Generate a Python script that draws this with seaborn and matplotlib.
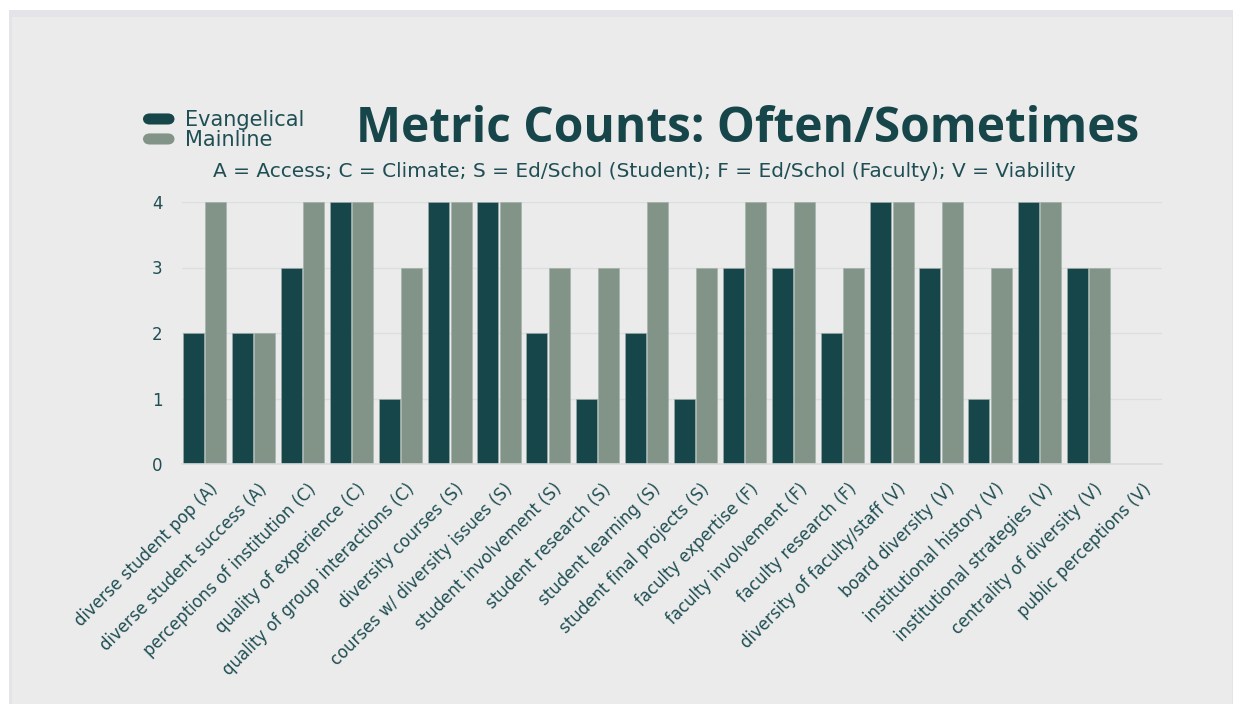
import matplotlib
matplotlib.use("Agg")
import matplotlib.pyplot as plt
import matplotlib.transforms as mtransforms
from matplotlib.patches import FancyBboxPatch, Rectangle
from matplotlib.legend_handler import HandlerPatch
import pandas as pd
import seaborn as sns

# Metric names (category code in parentheses)
metrics = [
    "diverse student pop (A)", "diverse student success (A)",
    "perceptions of institution (C)", "quality of experience (C)",
    "quality of group interactions (C)", "diversity courses (S)",
    "courses w/ diversity issues (S)", "student involvement (S)",
    "student research (S)", "student learning (S)",
    "student final projects (S)", "faculty expertise (F)",
    "faculty involvement (F)", "faculty research (F)",
    "diversity of faculty/staff (V)", "board diversity (V)",
    "institutional history (V)", "institutional strategies (V)",
    "centrality of diversity (V)", "public perceptions (V)",
]
evangelical = [2, 2, 3, 4, 1, 4, 4, 2, 1, 2, 1, 3, 3, 2, 4, 3, 1, 4, 3, 0]
mainline = [4, 2, 4, 4, 3, 4, 4, 3, 3, 4, 3, 4, 4, 3, 4, 4, 3, 4, 3, 0]
groups = ["Evangelical", "Mainline"]
y_ticks = [0, 1, 2, 3, 4]

DARK = "#17464a"
SAGE = "#829488"
TEXT = "#1f4f54"
PANEL = "#ebebeb"

df = pd.DataFrame({
    "metric": metrics * 2,
    "group": [groups[0]] * len(metrics) + [groups[1]] * len(metrics),
    "count": evangelical + mainline,
})

sns.set_theme(style="white")
plt.rcParams["font.family"] = ["DejaVu Sans"]

fig = plt.figure(figsize=(12.35, 7.04), dpi=100)
fig.patch.set_facecolor("white")

# Card background with a faint border
fig.patches.append(Rectangle((9 / 1235, -0.01), (1233 - 9) / 1235, 1 - 10 / 704 + 0.01,
                             transform=fig.transFigure, facecolor="#e4e4e8",
                             edgecolor="none", zorder=-3))
fig.patches.append(Rectangle((12 / 1235, -0.01), (1232 - 12) / 1235, 1 - 17 / 704 + 0.01,
                             transform=fig.transFigure, facecolor=PANEL,
                             edgecolor="none", zorder=-2))

ax = fig.add_axes([182 / 1235, 1 - 464 / 704, (1162 - 182) / 1235, (464 - 202) / 704])
ax.set_facecolor("none")

sns.barplot(data=df, x="metric", y="count", hue="group", order=metrics,
            hue_order=groups, palette=[DARK, SAGE], width=0.91, gap=0.06,
            saturation=1, edgecolor="#9fb0ab", linewidth=0.4, legend=False, ax=ax)

ax.set_xlim(-0.455, len(metrics) - 0.5)
ax.set_ylim(0, 4)
ax.set_yticks(y_ticks)
ax.set_yticklabels([str(v) for v in y_ticks])
ax.yaxis.grid(True, color="#dcdfdf", linewidth=1)
ax.set_axisbelow(True)
for side in ["top", "right", "left"]:
    ax.spines[side].set_visible(False)
ax.spines["bottom"].set_color("#d8dcdc")
ax.spines["bottom"].set_linewidth(1.2)
ax.set_xlabel("")
ax.set_ylabel("")
ax.tick_params(axis="y", length=0, pad=14, labelsize=12, labelcolor=TEXT)
ax.tick_params(axis="x", length=0, pad=0)

ax.set_xticks(range(len(metrics)))
ax.set_xticklabels(metrics, rotation=45, ha="right", va="top",
                   rotation_mode="anchor", fontsize=11.9, color=TEXT)
offset = mtransforms.ScaledTranslation(0.05, -0.16, fig.dpi_scale_trans)
for lbl in ax.get_xticklabels():
    lbl.set_transform(lbl.get_transform() + offset)

# Title and code key
fig.text(0.605, 0.816, "Metric Counts: Often/Sometimes", ha="center", va="center",
         fontsize=34.5, fontweight="bold", color=DARK, family="Open Sans")
fig.text(0.522, 0.757,
         "A = Access; C = Climate; S = Ed/Schol (Student); F = Ed/Schol (Faculty); V = Viability",
         ha="center", va="center", fontsize=14.5, color=TEXT)


# Rounded legend swatches
class RoundHandler(HandlerPatch):
    def create_artists(self, legend, orig_handle, xdescent, ydescent,
                       width, height, fontsize, trans):
        p = FancyBboxPatch((-xdescent + 2, -ydescent + 1.5), width - 4, height - 3,
                           boxstyle="round,pad=0,rounding_size=5",
                           facecolor=orig_handle.get_facecolor(), edgecolor="none",
                           transform=trans)
        return [p]


handles = [Rectangle((0, 0), 1, 1, facecolor=c) for c in (DARK, SAGE)]
fig.legend(handles, groups, loc="center left", bbox_to_anchor=(140 / 1235, 0.815),
           frameon=False, fontsize=15, labelcolor=TEXT, handlelength=1.8,
           handleheight=0.75, handletextpad=0.35, labelspacing=0.0, borderpad=0,
           borderaxespad=0, handler_map={Rectangle: RoundHandler()})

fig.savefig("out.png", dpi=100, facecolor=fig.get_facecolor())
